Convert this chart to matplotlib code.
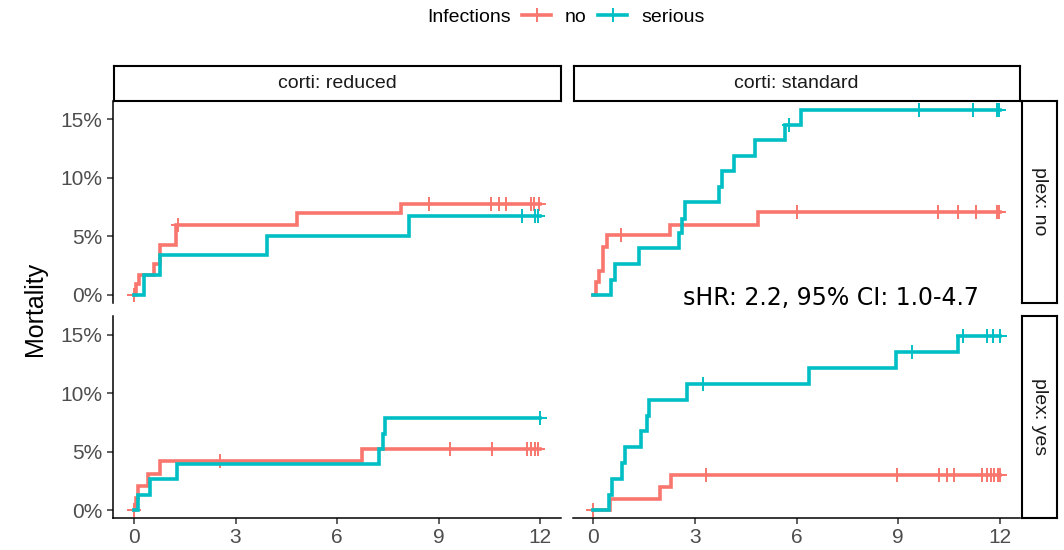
import numpy as np
import matplotlib
matplotlib.use('Agg')
import matplotlib.pyplot as plt
from matplotlib.lines import Line2D
from matplotlib.ticker import PercentFormatter

plt.rcParams['font.family'] = ['Liberation Sans', 'DejaVu Sans']

# Cumulative mortality (%) by month, per facet and infection group
# ------------------------------------------------------------------------------------------
# corti: reduced / plex: no
red_no_no_t = [0.05, 0.15, 0.59, 0.77, 1.23, 4.83, 7.88]
red_no_no_cum = [0.9, 1.7, 2.6, 4.3, 6.0, 7.0, 7.8]
red_no_no_cens = [0.0, 1.3, 8.72, 10.54, 10.79, 10.99, 11.72, 11.82, 11.97]
red_no_ser_t = [0.30, 0.76, 3.94, 8.11]
red_no_ser_cum = [1.7, 3.4, 5.0, 6.7]
red_no_ser_cens = [11.46, 11.85, 11.95]

# corti: standard / plex: no
std_no_no_t = [0.07, 0.17, 0.27, 0.41, 2.26, 4.85]
std_no_no_cum = [1.1, 2.0, 4.1, 5.1, 6.0, 7.1]
std_no_no_cens = [0.81, 6.0, 10.18, 10.77, 11.31, 11.92, 11.99]
std_no_ser_t = [0.51, 0.64, 1.35, 2.53, 2.61, 2.70, 3.71, 3.81, 4.15, 4.77, 5.65, 6.12]
std_no_ser_cum = [1.3, 2.6, 4.0, 5.3, 6.5, 7.9, 9.2, 10.6, 11.9, 13.2, 14.5, 15.8]
std_no_ser_cens = [5.77, 9.63, 11.2, 11.92, 11.99]

# corti: reduced / plex: yes
red_yes_no_t = [0.06, 0.11, 0.40, 0.77, 6.75]
red_yes_no_cum = [1.05, 2.1, 3.15, 4.2, 5.25]
red_yes_no_cens = [0.0, 2.54, 9.35, 10.58, 11.61, 11.74, 11.84, 11.94]
red_yes_ser_t = [0.13, 0.48, 1.28, 7.24, 7.36, 7.41]
red_yes_ser_cum = [1.35, 2.65, 3.95, 5.25, 6.55, 7.9]
red_yes_ser_cens = [12.0]

# corti: standard / plex: yes
std_yes_no_t = [0.49, 1.96, 2.30]
std_yes_no_cum = [1.0, 2.0, 3.0]
std_yes_no_cens = [0.0, 3.31, 8.97, 10.22, 10.44, 10.66, 11.47, 11.62, 11.74, 11.84, 11.94, 12.0]
std_yes_ser_t = [0.46, 0.56, 0.83, 0.93, 1.40, 1.59, 1.64, 2.77, 6.36, 8.95, 10.77]
std_yes_ser_cum = [1.35, 2.7, 4.05, 5.4, 6.75, 8.1, 9.45, 10.8, 12.15, 13.5, 14.9]
std_yes_ser_cens = [3.24, 9.41, 10.91, 11.62, 11.8, 12.0]

corti_labels = ['corti: reduced', 'corti: standard']
plex_labels = ['plex: no', 'plex: yes']
group_labels = ['no', 'serious']
group_colors = ['#F8766D', '#00BFC4']
x_ticks = [0, 3, 6, 9, 12]
y_ticks = [0, 5, 10, 15]
t_end = 12.0
hr_text = 'sHR: 2.2, 95% CI: 1.0-4.7'

panels = {
    (0, 0): [(red_no_no_t, red_no_no_cum, red_no_no_cens),
             (red_no_ser_t, red_no_ser_cum, red_no_ser_cens)],
    (0, 1): [(std_no_no_t, std_no_no_cum, std_no_no_cens),
             (std_no_ser_t, std_no_ser_cum, std_no_ser_cens)],
    (1, 0): [(red_yes_no_t, red_yes_no_cum, red_yes_no_cens),
             (red_yes_ser_t, red_yes_ser_cum, red_yes_ser_cens)],
    (1, 1): [(std_yes_no_t, std_yes_no_cum, std_yes_no_cens),
             (std_yes_ser_t, std_yes_ser_cum, std_yes_ser_cens)],
}

# Layout (figure fractions)
# ------------------------------------------------------------------------------------------
W, H = 1064, 550
col_x = [113 / W, 572.5 / W]
col_w = 447.5 / W
row_y = [1 - 302.5 / H, 1 - 518 / H]
row_h = 202 / H
LW = 2.6

fig = plt.figure(figsize=(W / 100, H / 100), dpi=100)

for (r, c), curves in panels.items():
    ax = fig.add_axes([col_x[c], row_y[r], col_w, row_h])
    for (t, cum, cens), col in zip(curves, group_colors):
        xs = np.array([0.0] + list(t) + [t_end])
        ys = np.array([0.0] + list(cum) + [cum[-1]])
        ax.step(xs, ys, where='post', color=col, lw=LW, solid_joinstyle='miter')
        idx = np.searchsorted(xs, cens, side='right') - 1
        ax.plot(cens, ys[idx], ls='none', marker='+', ms=10, mew=1.4, color=col)
    ax.set_xlim(-0.62, 12.6)
    ax.set_ylim(-0.65, 16.6)
    ax.set_xticks(x_ticks)
    ax.set_yticks(y_ticks)
    ax.yaxis.set_major_formatter(PercentFormatter(xmax=100, decimals=0))
    for s in ['top', 'right']:
        ax.spines[s].set_visible(False)
    ax.spines['left'].set_visible(c == 0)
    ax.spines['bottom'].set_visible(r == 1)
    for s in ['left', 'bottom']:
        ax.spines[s].set_linewidth(1.1)
    ax.tick_params(colors='#333333', labelcolor='#4D4D4D', labelsize=15, length=4, width=1.1)
    ax.tick_params(axis='x', bottom=(r == 1), labelbottom=(r == 1))
    ax.tick_params(axis='y', left=(c == 0), labelleft=(c == 0))

    # facet strips
    strips = []
    if r == 0:
        sx = fig.add_axes([col_x[c] + 1 / W, 1 - 100.7 / H, col_w - 1 / W, 35 / H])
        sx.text(0.5, 0.5, corti_labels[c], ha='center', va='center', fontsize=14, color='#1A1A1A')
        strips.append(sx)
    if c == 1:
        sy = fig.add_axes([1021.7 / W, row_y[r], 35.6 / W, row_h])
        sy.text(0.5, 0.5, plex_labels[r], ha='center', va='center', rotation=-90,
                fontsize=14, color='#1A1A1A')
        strips.append(sy)
    for s_ax in strips:
        s_ax.set_xticks([])
        s_ax.set_yticks([])
        for sp in s_ax.spines.values():
            sp.set_linewidth(1.5)

fig.text(35 / W, 1 - 309 / H, 'Mortality', rotation=90, ha='center', va='center', fontsize=18)

# legend on top
fig.text(427 / W, 1 - 17 / H, 'Infections', ha='left', va='center', fontsize=14)
handles = [Line2D([], [], color=col, lw=LW, marker='+', ms=10, mew=1.4) for col in group_colors]
fig.legend(handles, group_labels, loc='center left', bbox_to_anchor=(522 / W, 1 - 17 / H),
           ncol=2, frameon=False, fontsize=14, handlelength=1.5, handletextpad=0.7,
           columnspacing=0.6, borderpad=0, borderaxespad=0)

fig.text(683 / W, 1 - 304.7 / H, hr_text, ha='left', va='baseline', fontsize=17,
         family='DejaVu Sans', color='black')

fig.savefig('out.png', dpi=100)
plt.close(fig)
